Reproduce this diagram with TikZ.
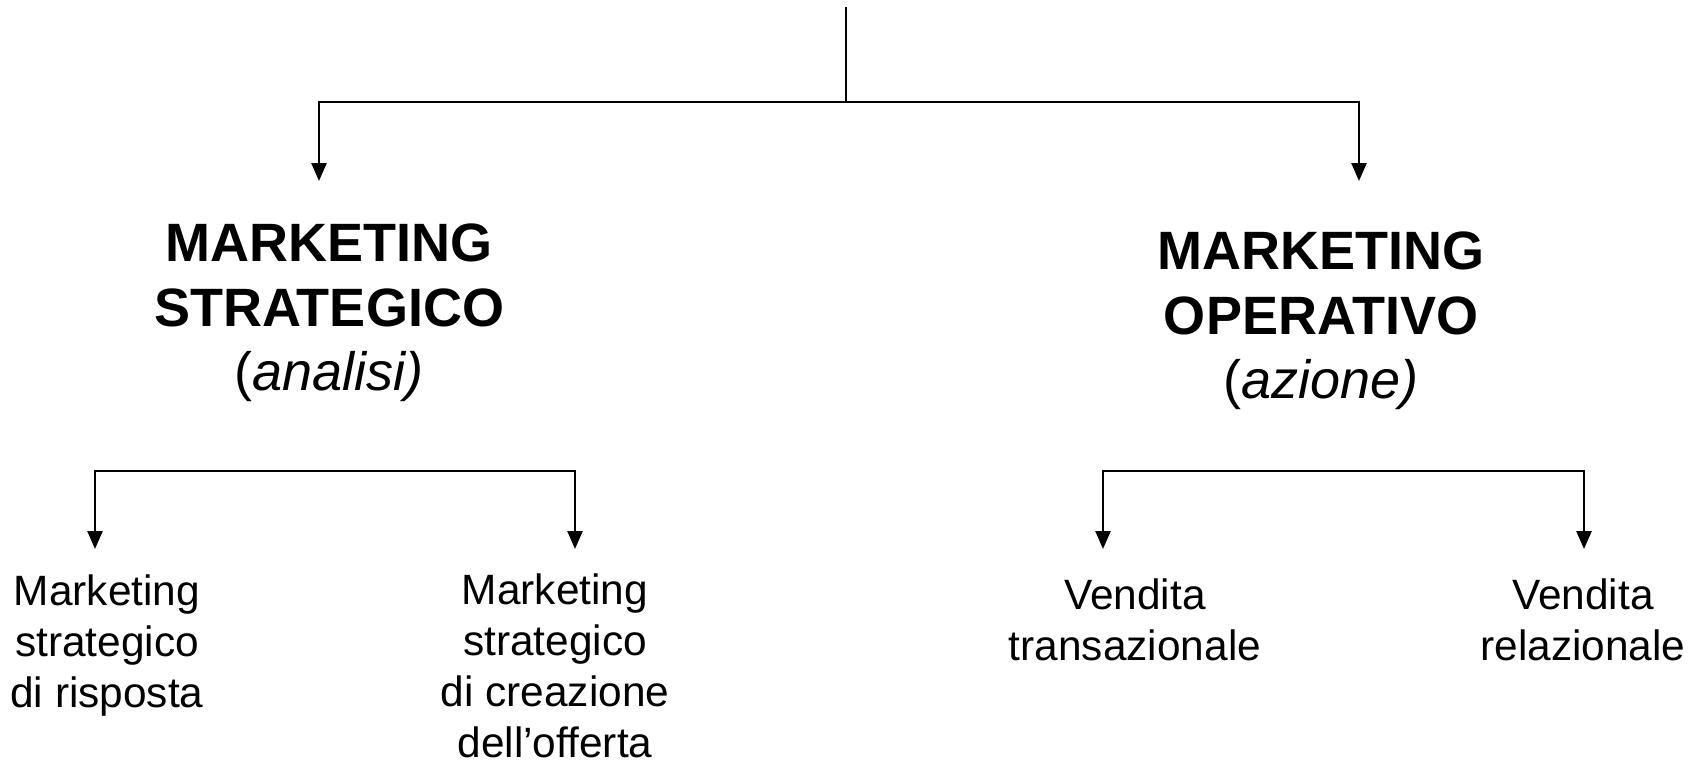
\documentclass[tikz,border=0pt]{standalone}
\usepackage{fontspec}
\setmainfont{Liberation Sans}
\usetikzlibrary{arrows.meta}
\tikzset{
  conn/.style={line width=2.5pt, draw=black},
  arr/.style={conn, -{Triangle[length=18pt,width=15pt]}},
  title/.style={align=center, inner sep=0pt, font=\fontsize{54}{64.5}\selectfont},
  leaf/.style={align=center, inner sep=0pt, font=\fontsize{42.4}{51}\selectfont},
}
\begin{document}
\begin{tikzpicture}[x=1pt,y=-1pt]
\useasboundingbox (0,0) rectangle (1701,760);
% connector points
\coordinate (top) at (846,7);
\coordinate (split) at (846,102);
\coordinate (tipL) at (319,181);
\coordinate (tipR) at (1359,181);
\coordinate (hL) at (335,471);
\coordinate (tipL1) at (95,549);
\coordinate (tipL2) at (575,549);
\coordinate (hR) at (1343,471);
\coordinate (tipR1) at (1103,549);
\coordinate (tipR2) at (1584,549);
% titles
\node[title] (strat) at (329,313) {\textbf{MARKETING}\\\textbf{STRATEGICO}\\(\textit{analisi)}};
\node[title] (oper) at (1321,321) {\textbf{MARKETING}\\\textbf{OPERATIVO}\\(\textit{azione)}};
% leaves
\node[leaf] (risp) at (107,646) {Marketing\\strategico\\di risposta};
\node[leaf] (crea) at (555,666) {Marketing\\strategico\\di creazione\\dell’offerta};
\node[leaf] (trans) at (1135,620) {Vendita\\transazionale};
\node[leaf] (rel) at (1583,620) {Vendita\\relazionale};
% connectors
\draw[conn] (top) -- (split);
\draw[arr] (split) -| (tipL);
\draw[arr] (split) -| (tipR);
\draw[arr] (hL) -| (tipL1);
\draw[arr] (hL) -| (tipL2);
\draw[arr] (hR) -| (tipR1);
\draw[arr] (hR) -| (tipR2);
\end{tikzpicture}
\end{document}
